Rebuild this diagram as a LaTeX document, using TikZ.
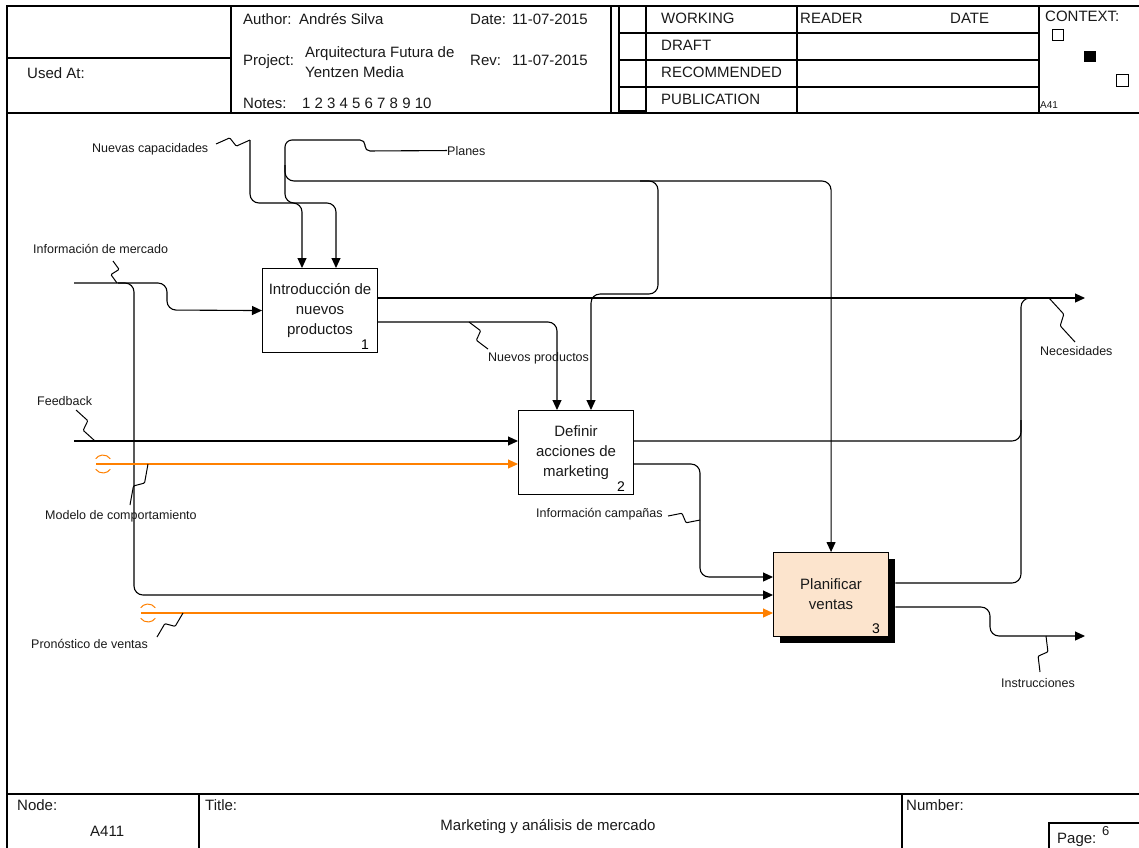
\documentclass[tikz,border=0pt]{standalone}
\usepackage{fontspec}
\setmainfont{Liberation Sans}
\usetikzlibrary{calc,arrows.meta}
\definecolor{tunnel}{RGB}{255,128,0}
\definecolor{planfill}{RGB}{252,228,205}
\definecolor{ink}{RGB}{25,25,25}
\begin{document}
\begin{tikzpicture}[x=1pt,y=-1pt,
  hdr/.style={font=\fontsize{15}{17}\selectfont, anchor=base west, inner sep=0pt, text=ink},
  small/.style={font=\fontsize{10}{12}\selectfont, anchor=base west, inner sep=0pt, text=ink},
  lbl/.style={font=\fontsize{12.5}{14}\selectfont, anchor=base west, inner sep=0pt, text=ink},
  act/.style={draw, line width=1.1pt, minimum width=115pt, minimum height=84pt, anchor=north west,
              inner sep=0pt, align=center, font=\fontsize{15}{20}\selectfont, text=ink},
  num/.style={font=\fontsize{14}{16}\selectfont, anchor=south east, inner sep=0pt},
  frame/.style={line width=1.3pt},
  flow/.style={line width=1.1pt, rounded corners=9pt},
  tip/.style={-{Triangle[length=10pt,width=9pt]}},
  feed/.style={flow, tunnel},
  squig/.style={line width=1pt, rounded corners=1pt,
    to path={-- ($(\tikztostart)!0.42!(\tikztotarget)!4.5pt!90:(\tikztotarget)$)
             -- ($(\tikztostart)!0.58!(\tikztotarget)!4.5pt!-90:(\tikztotarget)$)
             -- (\tikztotarget)}},
  arcmark/.style={tunnel, line width=1pt}
]
\useasboundingbox (0,0) rectangle (1139,847);

% ---------- sheet frame ----------
\draw[frame] (7,6) rectangle (1170,880);
\draw[frame] (7,113) -- (1170,113);
\draw[frame] (7,794) -- (1170,794);

% header cells
\draw[frame] (7,58) -- (231,58);
\draw[frame] (231,6) -- (231,113);
\draw[frame] (611,6) -- (611,113);
\draw[frame] (619,6) rectangle (646,111);
\draw[frame] (797,6) -- (797,113);
\draw[frame] (1039,6) -- (1039,113);
\draw[frame] (619,33) -- (1039,33);
\draw[frame] (619,60) -- (1039,60);
\draw[frame] (619,87) -- (1039,87);

\node[hdr] (hUsed) at (27,78) {Used At:};
\node[hdr] (hAuthor) at (243,24) {Author:};
\node[hdr] (hAuthorV) at (299,24) {Andrés Silva};
\node[hdr] (hDate) at (470,24) {Date:};
\node[hdr] (hDateV) at (512,24) {11-07-2015};
\node[hdr] (hProj) at (243,65) {Project:};
\node[hdr] (hProjA) at (305,57) {Arquitectura Futura de};
\node[hdr] (hProjB) at (305,77) {Yentzen Media};
\node[hdr] (hRev) at (470,65) {Rev:};
\node[hdr] (hRevV) at (512,65) {11-07-2015};
\node[hdr] (hNotes) at (243,108) {Notes:};
\node[hdr] (hNotesV) at (302,108) {1 2 3 4 5 6 7 8 9 10};

\node[hdr] (sWork) at (661,23) {WORKING};
\node[hdr] (sDraft) at (661,50) {DRAFT};
\node[hdr] (sRec) at (661,77) {RECOMMENDED};
\node[hdr] (sPub) at (661,104) {PUBLICATION};
\node[hdr] (sReader) at (800,23) {READER};
\node[hdr] (sDate) at (950,23) {DATE};
\node[hdr] (cxTitle) at (1045,21) {CONTEXT:};
\draw[line width=1pt] (1052,29) rectangle (1063,40);
\fill (1084,51) rectangle (1096,62);
\draw[line width=1pt] (1116,74) rectangle (1128,86);
\node[small] (cxNode) at (1040,108) {A41};

% footer cells
\draw[frame] (199,794) -- (199,870);
\draw[frame] (902,794) -- (902,870);
\draw[frame] (1049,823) rectangle (1170,880);
\node[hdr] (fNode) at (17,810) {Node:};
\node[hdr] (fNodeV) at (90,836) {A411};
\node[hdr] (fTitle) at (205,810) {Title:};
\node[hdr, anchor=base] (fTitleV) at (548,830) {Marketing y análisis de mercado};
\node[hdr] (fNum) at (906,810) {Number:};
\node[hdr] (fPage) at (1057,843) {Page:};
\node[hdr, font=\fontsize{13}{14}\selectfont] (fPageV) at (1102,835) {6};

% ---------- activity boxes ----------
\node[act] (b1) at (262,268) {Introducción de\\nuevos\\productos};
\node[act] (b2) at (518,410) {Definir\\acciones de\\marketing};
\node[fill=black, minimum width=115pt, minimum height=84pt, anchor=north west, inner sep=0pt] (b3s) at (780,559) {};
\node[act, fill=planfill] (b3) at (773,552) {Planificar\\ventas};
\node[num] (n1) at ($(b1.south east)+(-9,-3)$) {1};
\node[num] (n2) at ($(b2.south east)+(-9,-3)$) {2};
\node[num] (n3) at ($(b3.south east)+(-9,-3)$) {3};

% ---------- inputs ----------
\coordinate (imIn) at (74,283);
\draw[flow,tip] (imIn) -- (167,283) -- (167,310) -- (b1.west);
\draw[flow,tip] (118,283) -- (134,283) -- (134,595) -- (b3.west |- 0,595);

\coordinate (fbIn) at (74,441);
\draw[flow,tip] (fbIn) -- (b2.west |- 0,441);

\coordinate (mcIn) at (96,464);
\draw[feed,tip] (mcIn) -- (b2.west |- 0,464);
\draw[arcmark] (103,464) ++(35:9pt) arc[start angle=35, end angle=145, radius=9pt];
\draw[arcmark] (103,464) ++(215:9pt) arc[start angle=215, end angle=325, radius=9pt];

\coordinate (pvIn) at (141,613);
\draw[feed,tip] (pvIn) -- (b3.west |- 0,613);
\draw[arcmark] (148,613) ++(35:9pt) arc[start angle=35, end angle=145, radius=9pt];
\draw[arcmark] (148,613) ++(215:9pt) arc[start angle=215, end angle=325, radius=9pt];

% ---------- controls ----------
\coordinate (ncIn) at (250,140);
\draw[flow,tip] (ncIn) -- (250,203) -- (302,203) -- (b1.north -| 302,0);

\node[lbl] (lPL) at (447,155) {Planes};
\draw[flow,tip] (lPL.west) [rounded corners=5pt] -- (365,151) -- (365,140)
  [rounded corners=7pt] -- (285,140) [rounded corners=9pt] -- (285,203) -- (336,203) -- (b1.north -| 336,0);
\draw[flow,tip] (285,165) -- (285,181) -- (b3.north |- 0,181) -- (b3.north);
\draw[flow,tip] (640,181) -- (658,181) -- (658,294) -- (591,294) -- (b2.north -| 591,0);

% ---------- outputs ----------
\coordinate (neOut) at (1085,298);
\draw[flow,tip] (b1.east |- 0,298) -- (neOut);
\draw[flow,tip] (b1.east |- 0,322) -- (557,322) -- (b2.north -| 557,0);
\draw[flow] (b2.east |- 0,441) -- (1021,441) -- (1021,420);
\draw[flow,tip] (b2.east |- 0,464) -- (700,464) -- (700,577) -- (b3.west |- 0,577);
\draw[flow] (b3s.east |- 0,583) -- (1021,583) -- (1021,298) -- (1045,298);
\coordinate (inOut) at (1085,636);
\draw[flow,tip] (b3s.east |- 0,607) -- (990,607) -- (990,636) -- (inOut);

% ---------- arrow labels ----------
\node[lbl] (lNC) at (92,152) {Nuevas capacidades};
\node[lbl] (lIM) at (33,253) {Información de mercado};
\node[lbl] (lNP) at (488,361) {Nuevos productos};
\node[lbl] (lNE) at (1040,355) {Necesidades};
\node[lbl] (lFB) at (37,405) {Feedback};
\node[lbl] (lMC) at (45,519) {Modelo de comportamiento};
\node[lbl] (lIC) at (536,517) {Información campañas};
\node[lbl] (lPV) at (31,648) {Pronóstico de ventas};
\node[lbl] (lIN) at (1001,687) {Instrucciones};

% squiggles tying labels to their arrows
\coordinate (qNC) at (216,144);
\coordinate (qIM) at (113,261);
\coordinate (qFB) at (76,410);
\coordinate (qMC) at (130,505);
\coordinate (qPV) at (157,637);
\coordinate (qNP) at (488,349);
\coordinate (qIC) at (668,516);
\coordinate (qNE) at (1075,342);
\coordinate (qIN) at (1040,672);
\draw[squig] (qNC) to (ncIn);
\draw[squig] (qIM) to (117,283);
\draw[squig] (qFB) to (95,441);
\draw[squig] (qMC) to (148,464);
\draw[squig] (qPV) to (183,613);
\draw[squig] (qNP) to (469,322);
\draw[squig] (qIC) to (700,520);
\draw[squig] (qNE) to (1049,298);
\draw[squig] (qIN) to (1046,636);
\end{tikzpicture}
\end{document}
